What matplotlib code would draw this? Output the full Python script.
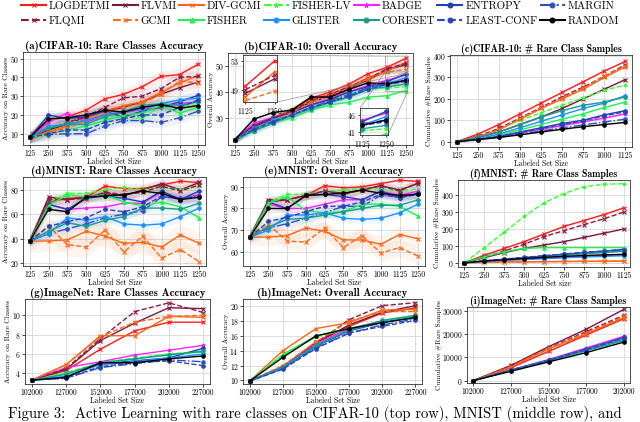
import matplotlib.pyplot as plt
from matplotlib.lines import Line2D

plt.rcParams['font.family'] = ['cmr10', 'DejaVu Serif']
plt.rcParams['axes.unicode_minus'] = False
plt.rcParams['axes.formatter.use_mathtext'] = True

# ---- data ----
names = ["LOGDETMI", "FLVMI", "DIV-GCMI", "FISHER-LV", "BADGE", "ENTROPY", "MARGIN",
         "FLQMI", "GCMI", "FISHER", "GLISTER", "CORESET", "LEAST-CONF", "RANDOM"]

x_cifar = [125, 250, 375, 500, 625, 750, 875, 1000, 1125, 1250]
x_cifar_cum = [125, 250, 375, 500, 625, 750, 875, 1000, 1125]
x_imnet = [102000, 127000, 152000, 177000, 202000, 227000]
x_imnet_cum = [102000, 127000, 152000, 177000, 202000]

cifar_rare = {
    "LOGDETMI":   [8, 17, 19, 22.5, 28.5, 31, 35, 40.5, 41.5, 47],
    "FLVMI":      [8, 12, 15, 19, 22, 24, 27, 31, 34.5, 37.5],
    "DIV-GCMI":   [8, 11, 14, 18, 22, 25, 27, 32, 37, 41],
    "FISHER-LV":  [8, 13, 16, 17, 18, 19, 18, 25, 25, 25],
    "BADGE":      [8, 16, 21, 16, 20, 21, 23, 24, 26, 27],
    "ENTROPY":    [8, 20, 18, 19, 22, 19, 22, 24, 27, 30.5],
    "MARGIN":     [8, 9.5, 10, 10, 14, 17, 17, 16, 18.5, 22],
    "FLQMI":      [8, 12, 16, 19, 24, 29, 30, 34, 40, 40.5],
    "GCMI":       [8, 11, 13, 17, 21, 24, 26, 31, 38, 37],
    "FISHER":     [8, 10, 12, 14, 17, 20, 21, 25, 21, 24],
    "GLISTER":    [8, 14, 15, 17, 20, 22, 23, 26, 28, 29],
    "CORESET":    [8, 13, 15, 15, 19, 22, 25, 26, 25, 27],
    "LEAST-CONF": [8, 10, 12, 12, 16, 18, 20, 20, 24, 28],
    "RANDOM":     [8, 18, 18.5, 20, 22.5, 21.5, 24, 25.5, 23.5, 25],
}
cifar_overall = {
    "LOGDETMI":   [21.5, 27, 30, 33, 37.5, 40, 43, 47, 49.5, 53],
    "FLVMI":      [21.5, 26.5, 29.5, 32.5, 36, 38.5, 41.5, 44.5, 48.5, 50.5],
    "DIV-GCMI":   [21.5, 27, 30, 33, 37, 39, 42, 45.5, 48, 51.5],
    "FISHER-LV":  [21.5, 26, 29, 32, 35, 37, 39, 41, 41.5, 42],
    "BADGE":      [21.5, 28, 30, 32, 35, 37.5, 40, 42.5, 44.5, 46.5],
    "ENTROPY":    [21.5, 27, 30, 32, 35, 37, 40, 42, 44, 47],
    "MARGIN":     [21.5, 25, 28, 31, 34, 36.5, 39, 41.5, 43.5, 44.5],
    "FLQMI":      [21.5, 27, 29.5, 33, 36.5, 39, 42, 45, 49, 51],
    "GCMI":       [21.5, 26, 29, 32, 36, 38.5, 41.5, 45, 47.5, 48.8],
    "FISHER":     [21.5, 25, 28, 30, 33, 35, 36, 38, 38.5, 40.5],
    "GLISTER":    [21.5, 26, 29, 31, 34, 36, 38, 41, 43, 45.5],
    "CORESET":    [21.5, 25, 28, 31, 33.5, 36, 38, 41, 42, 43],
    "LEAST-CONF": [21.5, 25.5, 28.5, 31, 34, 36, 38.5, 41, 43, 44],
    "RANDOM":     [21.5, 29.5, 32, 33, 38, 38, 41, 43.5, 43, 44.5],
}
cifar_cum = {
    "LOGDETMI":   [0, 35, 80, 130, 180, 230, 280, 330, 375],
    "FLVMI":      [0, 20, 45, 80, 115, 155, 200, 245, 290],
    "DIV-GCMI":   [0, 22, 55, 105, 155, 200, 245, 300, 350],
    "FISHER-LV":  [0, 25, 60, 100, 135, 170, 205, 240, 265],
    "BADGE":      [0, 10, 22, 40, 58, 75, 92, 110, 130],
    "ENTROPY":    [0, 12, 25, 45, 65, 85, 100, 125, 145],
    "MARGIN":     [0, 10, 20, 35, 50, 65, 78, 92, 105],
    "FLQMI":      [0, 25, 62, 110, 160, 210, 255, 305, 360],
    "GCMI":       [0, 23, 57, 107, 157, 203, 250, 305, 355],
    "FISHER":     [0, 12, 30, 55, 80, 105, 130, 160, 185],
    "GLISTER":    [0, 15, 35, 65, 95, 125, 155, 180, 215],
    "CORESET":    [0, 20, 45, 80, 115, 145, 170, 185, 210],
    "LEAST-CONF": [0, 12, 25, 42, 62, 80, 98, 120, 140],
    "RANDOM":     [0, 10, 20, 32, 45, 58, 70, 80, 90],
}
mnist_rare = {
    "LOGDETMI":   [38, 70, 73, 74, 83, 81, 81, 84, 87, 86],
    "FLVMI":      [38, 74, 72, 74, 77, 75, 80, 85, 80, 86],
    "DIV-GCMI":   [38, 38, 39, 46, 42, 36, 37, 33, 43, 36],
    "FISHER-LV":  [38, 70, 77, 77, 80, 82, 80, 82, 80, 83],
    "BADGE":      [38, 68, 64, 65, 66, 69, 69, 78, 73, 76],
    "ENTROPY":    [38, 68, 64, 73, 75, 73, 70, 79, 72, 79],
    "MARGIN":     [38, 44, 48, 52, 57, 60, 63, 74, 73, 75],
    "FLQMI":      [38, 72, 72, 73, 78, 76, 78, 83, 79, 84],
    "GCMI":       [38, 50, 35, 33, 47, 29, 42, 24, 31, 21],
    "FISHER":     [38, 67, 76, 74, 76, 70, 67, 70, 66, 57],
    "GLISTER":    [38, 44, 57, 55, 58, 52, 51, 52, 58, 65],
    "CORESET":    [38, 46, 53, 50, 55, 58, 65, 65, 64, 69],
    "LEAST-CONF": [38, 50, 54, 57, 64, 62, 66, 75, 72, 74],
    "RANDOM":     [38, 64, 62, 74, 75, 76, 79, 77, 72, 74],
}
mnist_overall = {
    "LOGDETMI":   [66.8, 83, 84, 86, 90.5, 89.5, 90, 91.5, 93, 92.5],
    "FLVMI":      [66.8, 84, 84, 86, 88, 87, 88.5, 90.5, 88.5, 91.5],
    "DIV-GCMI":   [66.8, 66.8, 67.5, 71, 69.5, 65.5, 65.5, 63.5, 68, 66],
    "FISHER-LV":  [66.8, 83, 86.5, 86.5, 88, 88.5, 89, 89, 88, 89],
    "BADGE":      [66.8, 82, 80, 80, 82, 84, 84, 88, 86, 88],
    "ENTROPY":    [66.8, 83, 80, 86, 86.5, 85.5, 84, 88, 85, 87],
    "MARGIN":     [66.8, 71, 73, 75.5, 78, 81, 81, 86, 85.5, 87],
    "FLQMI":      [66.8, 83, 84, 86, 88, 86.5, 88.5, 90.5, 88, 92],
    "GCMI":       [66.8, 72.5, 65, 64.5, 71, 62, 67.5, 59.5, 62, 58],
    "FISHER":     [66.8, 82.5, 85.5, 79, 78, 78.5, 82, 82, 81, 76.5],
    "GLISTER":    [66.8, 70, 77, 77, 78, 75.5, 75, 75.5, 78, 82],
    "CORESET":    [66.8, 71.5, 75, 75.5, 77, 78.5, 80, 81.5, 81.5, 84],
    "LEAST-CONF": [66.8, 74, 76, 78.5, 81, 81, 83, 86.5, 85, 86.5],
    "RANDOM":     [66.8, 80, 80, 86, 86.5, 87, 88.5, 87, 86, 86.5],
}
mnist_cum = {
    "LOGDETMI":   [0, 45, 85, 125, 170, 215, 250, 285, 325],
    "FLVMI":      [0, 30, 60, 85, 105, 125, 150, 175, 200],
    "DIV-GCMI":   [0, 3, 5, 6, 7, 8, 9, 10, 10],
    "FISHER-LV":  [0, 90, 180, 275, 355, 410, 450, 465, 468],
    "BADGE":      [0, 8, 14, 20, 26, 32, 38, 42, 48],
    "ENTROPY":    [0, 10, 20, 30, 40, 50, 60, 68, 80],
    "MARGIN":     [0, 10, 20, 30, 40, 50, 58, 65, 72],
    "FLQMI":      [0, 35, 70, 110, 155, 190, 225, 260, 300],
    "GCMI":       [0, 2, 4, 5, 6, 7, 8, 9, 9],
    "FISHER":     [0, 35, 65, 85, 90, 90, 90, 90, 90],
    "GLISTER":    [0, 8, 15, 20, 25, 30, 35, 38, 42],
    "CORESET":    [0, 10, 18, 27, 35, 44, 53, 60, 68],
    "LEAST-CONF": [0, 12, 22, 32, 42, 52, 62, 70, 78],
    "RANDOM":     [0, 10, 18, 25, 32, 38, 43, 47, 50],
}
imnet_rare = {
    "LOGDETMI":   [3.3, 4.3, 6.5, 8.4, 9.3, 9.3],
    "FLVMI":      [3.3, 4.4, 7.4, 9.2, 10.8, 10.7],
    "DIV-GCMI":   [3.3, 4.9, 7.9, 7.9, 9.9, 9.8],
    "FISHER-LV":  [3.3, 4.1, 5.1, 5.6, 6.0, 6.3],
    "BADGE":      [3.3, 4.6, 5.2, 5.9, 6.4, 6.9],
    "ENTROPY":    [3.3, 3.6, 5.0, 5.3, 5.6, 6.6],
    "MARGIN":     [3.3, 3.5, 4.6, 5.0, 5.4, 5.2],
    "FLQMI":      [3.3, 4.5, 7.6, 10.4, 11.3, 10.3],
    "GCMI":       [3.3, 4.9, 7.8, 9.3, 9.9, 10.0],
    "FISHER":     [3.3, 4.0, 5.0, 5.5, 6.0, 6.2],
    "GLISTER":    [3.3, 3.7, 4.9, 5.2, 5.6, 6.0],
    "CORESET":    [3.3, 3.9, 5.1, 5.5, 5.9, 6.3],
    "LEAST-CONF": [3.3, 3.5, 4.7, 5.1, 5.3, 4.8],
    "RANDOM":     [3.3, 3.6, 5.1, 5.1, 5.5, 5.8],
}
imnet_overall = {
    "LOGDETMI":   [9.9, 11.8, 15.2, 17.3, 19.1, 19.8],
    "FLVMI":      [9.9, 11.8, 15.0, 17.5, 19.2, 20.1],
    "DIV-GCMI":   [9.9, 14.0, 17.0, 17.8, 19.5, 19.6],
    "FISHER-LV":  [9.9, 13.3, 15.9, 16.9, 17.9, 18.5],
    "BADGE":      [9.9, 11.9, 15.0, 17.0, 18.0, 18.7],
    "ENTROPY":    [9.9, 11.6, 14.6, 16.7, 17.8, 18.6],
    "MARGIN":     [9.9, 11.6, 14.4, 16.4, 17.5, 18.3],
    "FLQMI":      [9.9, 11.8, 15.0, 18.2, 20.1, 20.5],
    "GCMI":       [9.9, 12.0, 15.2, 18.0, 19.3, 19.3],
    "FISHER":     [9.9, 13.5, 16.0, 17.0, 18.0, 18.6],
    "GLISTER":    [9.9, 11.7, 14.7, 16.8, 17.9, 18.4],
    "CORESET":    [9.9, 11.8, 14.8, 16.8, 18.1, 18.8],
    "LEAST-CONF": [9.9, 11.5, 14.3, 16.4, 17.3, 18.1],
    "RANDOM":     [9.9, 13.1, 16.0, 17.0, 17.8, 18.5],
}
imnet_cum = {
    "LOGDETMI":   [0, 5500, 12500, 19500, 26500],
    "FLVMI":      [0, 6500, 14500, 22000, 30500],
    "DIV-GCMI":   [0, 5800, 13500, 20000, 27000],
    "FISHER-LV":  [0, 4400, 8600, 13100, 17800],
    "BADGE":      [0, 4600, 9000, 14000, 19000],
    "ENTROPY":    [0, 4500, 8800, 13500, 18500],
    "MARGIN":     [0, 4500, 8700, 13400, 18400],
    "FLQMI":      [0, 6200, 14000, 21000, 28000],
    "GCMI":       [0, 6000, 13800, 20500, 27500],
    "FISHER":     [0, 4400, 8500, 13000, 17500],
    "GLISTER":    [0, 4400, 8600, 13200, 18000],
    "CORESET":    [0, 4300, 8400, 12800, 17200],
    "LEAST-CONF": [0, 4450, 8650, 13300, 18200],
    "RANDOM":     [0, 4000, 8000, 12000, 16500],
}

# rough spread of the shaded bands per panel (extra for noisy orange runs on MNIST)
band_cifar_rare = 3.0
band_cifar_overall = 1.2
band_mnist_rare = 4.0
band_mnist_overall = 2.0
band_mnist_orange_rare = 9.0
band_mnist_orange_overall = 4.0

# ---- styles ----
style = {
    "LOGDETMI":   dict(color="#ff1a1a", ls="-", marker="x"),
    "FLVMI":      dict(color="#7a1840", ls="-", marker="x"),
    "DIV-GCMI":   dict(color="#ff6410", ls="-", marker="x"),
    "FISHER-LV":  dict(color="#3cff3c", ls="--", marker="*"),
    "BADGE":      dict(color="#ff20ff", ls="-", marker="*"),
    "ENTROPY":    dict(color="#2040b0", ls="-", marker="o"),
    "MARGIN":     dict(color="#3050c0", ls="-.", marker="o"),
    "FLQMI":      dict(color="#8a1a48", ls="--", marker="x"),
    "GCMI":       dict(color="#ff6a1a", ls="--", marker="x"),
    "FISHER":     dict(color="#20f050", ls="-", marker="^"),
    "GLISTER":    dict(color="#2090ff", ls="-", marker="o"),
    "CORESET":    dict(color="#1a9a90", ls="-", marker="o"),
    "LEAST-CONF": dict(color="#2a44b8", ls="--", marker="o"),
    "RANDOM":     dict(color="#000000", ls="-", marker="o"),
}

W, H = 640, 422
fig = plt.figure(figsize=(W / 100, H / 100), dpi=100)


def make_ax(l, t, r, b):
    return fig.add_axes([l / W, 1 - b / H, (r - l) / W, (b - t) / H])


def draw(ax, x, data, band=None, extra=None, lw=1.0, ms=2.5):
    for n in names:
        s = style[n]
        y = data[n]
        ax.plot(x, y, color=s["color"], ls=s["ls"], marker=s["marker"], lw=lw,
                ms=ms, mew=0.8)
        if band is not None:
            w = band
            if extra and n in extra:
                w = extra[n]
            ax.fill_between(x, [v - w for v in y], [v + w for v in y],
                            color=s["color"], alpha=0.07, lw=0)


def decorate(ax, title, ylabel, xlabel, xticks, ylim, yticks):
    tsize = 7.1 if "#" in title else 7.8
    ax.set_title(title, fontsize=tsize, family=['cmb10', 'DejaVu Serif'], pad=2)
    ax.set_ylabel(ylabel, fontsize=5.3, labelpad=0.3)
    ax.set_xlabel(xlabel, fontsize=5.5, labelpad=0.3)
    ax.set_xticks(xticks)
    ax.set_xticklabels([str(v) for v in xticks])
    ax.set_yticks(yticks)
    ax.set_ylim(*ylim)
    pad = (xticks[-1] - xticks[0]) * 0.04
    ax.set_xlim(xticks[0] - pad, xticks[-1] + pad)
    ax.tick_params(labelsize=5.5, length=2, width=0.5, pad=1)
    ax.grid(color="#d8d8d8", lw=0.6)
    ax.set_axisbelow(True)
    for sp in ax.spines.values():
        sp.set_linewidth(0.6)
        sp.set_color("#333333")


ax_a = make_ax(23, 52, 205, 145)
ax_b = make_ax(228, 53, 413, 145)
ax_c = make_ax(450, 55, 632, 147)
ax_d = make_ax(23, 177, 206, 266)
ax_e = make_ax(243, 177, 425, 266)
ax_f = make_ax(458, 180, 630, 267)
ax_g = make_ax(25, 299, 210, 384)
ax_h = make_ax(243, 299, 422, 384)
ax_i = make_ax(467, 307, 630, 383)

draw(ax_a, x_cifar, cifar_rare, band_cifar_rare)
decorate(ax_a, "(a)CIFAR-10: Rare Classes Accuracy", "Accuracy on Rare Classes",
         "Labeled Set Size", x_cifar, (4, 53.5), [10, 20, 30, 40, 50])

draw(ax_b, x_cifar, cifar_overall, band_cifar_overall)
decorate(ax_b, "(b)CIFAR-10: Overall Accuracy", "Overall Accuracy",
         "Labeled Set Size", x_cifar, (19.5, 55), [30, 40, 50])

draw(ax_c, x_cifar_cum, cifar_cum, 4)
decorate(ax_c, "(c)CIFAR-10: # Rare Class Samples", "Cumulative #Rare Samples",
         "Labeled Set Size", x_cifar_cum, (-25, 405), [0, 100, 200, 300, 400])

orange_r = {"DIV-GCMI": band_mnist_orange_rare, "GCMI": band_mnist_orange_rare}
orange_o = {"DIV-GCMI": band_mnist_orange_overall, "GCMI": band_mnist_orange_overall}
draw(ax_d, x_cifar, mnist_rare, band_mnist_rare, orange_r)
decorate(ax_d, "(d)MNIST: Rare Classes Accuracy", "Accuracy on Rare Classes",
         "Labeled Set Size", x_cifar, (17.5, 90.5), [20, 40, 60, 80])

draw(ax_e, x_cifar, mnist_overall, band_mnist_overall, orange_o)
decorate(ax_e, "(e)MNIST: Overall Accuracy", "Overall Accuracy",
         "Labeled Set Size", x_cifar, (53.5, 94.5), [60, 70, 80, 90])

draw(ax_f, x_cifar_cum, mnist_cum, 3)
decorate(ax_f, "(f)MNIST: # Rare Class Samples", "Cumulative #Rare Samples",
         "Labeled Set size", x_cifar_cum, (-25, 490), [0, 100, 200, 300, 400])

draw(ax_g, x_imnet, imnet_rare)
decorate(ax_g, "(g)ImageNet: Rare Classes Accuracy", "Accuracy on Rare Classes",
         "Labeled Set Size", x_imnet, (2.9, 11.7), [4, 6, 8, 10])

draw(ax_h, x_imnet, imnet_overall)
decorate(ax_h, "(h)ImageNet: Overall Accuracy", "Overall Accuracy",
         "Labeled Set Size", x_imnet, (9.5, 21), [10, 12, 14, 16, 18, 20])

draw(ax_i, x_imnet_cum, imnet_cum)
decorate(ax_i, "(i)ImageNet: # Rare Class Samples", "Cumulative #Rare Samples",
         "Labeled Set Size", x_imnet_cum, (-1000, 31500), [0, 10000, 20000, 30000])

# zoomed insets on panel (b)
top_group = ["LOGDETMI", "FLVMI", "DIV-GCMI", "FLQMI", "GCMI"]
for box, grp, ylim, yt in [((243, 55, 277, 102), top_group, (47.3, 53.8), [49, 53]),
                           ((360, 108, 388, 135), [n for n in names if n not in top_group],
                            (40.2, 48), [41, 46])]:
    l, t, r, b = box
    ins = ax_b.inset_axes([(l - 228) / 185, 1 - (b - 53) / 92, (r - l) / 185, (b - t) / 92])
    for n in grp:
        s = style[n]
        ins.plot(x_cifar[-2:], cifar_overall[n][-2:], color=s["color"], ls=s["ls"],
                 marker=s["marker"], lw=1.0, ms=2.5, mew=0.8)
    ins.set_xlim(1115, 1260)
    ins.set_ylim(*ylim)
    ins.set_xticks([1125, 1250])
    ins.set_yticks(yt)
    ins.tick_params(labelsize=5.5, length=1.5, width=0.5, pad=1)
    ins.grid(color="#d8d8d8", lw=0.5)
    for sp in ins.spines.values():
        sp.set_linewidth(0.6)
        sp.set_color("#333333")
    ax_b.indicate_inset_zoom(ins, edgecolor="#888888", lw=0.6, alpha=0.8)

# legend
handles = []
for i in range(7):
    for n in (names[i], names[i + 7]):
        s = style[n]
        handles.append(Line2D([], [], color=s["color"], ls=s["ls"], marker=s["marker"],
                              lw=1.5, ms=3.5, mew=0.8, label=n))
fig.legend(handles=handles, loc="upper center", bbox_to_anchor=(0.5, 1.02), ncol=7,
           frameon=False, fontsize=7.9, handlelength=2.3, columnspacing=0.2,
           handletextpad=0.25, labelspacing=0.45)

fig.text(0.012, 4 / H, "Figure 3:  Active Learning with rare classes on CIFAR-10 (top row), "
         "MNIST (middle row), and", fontsize=10.5, va="baseline", ha="left")

fig.savefig("out.png", dpi=100)
